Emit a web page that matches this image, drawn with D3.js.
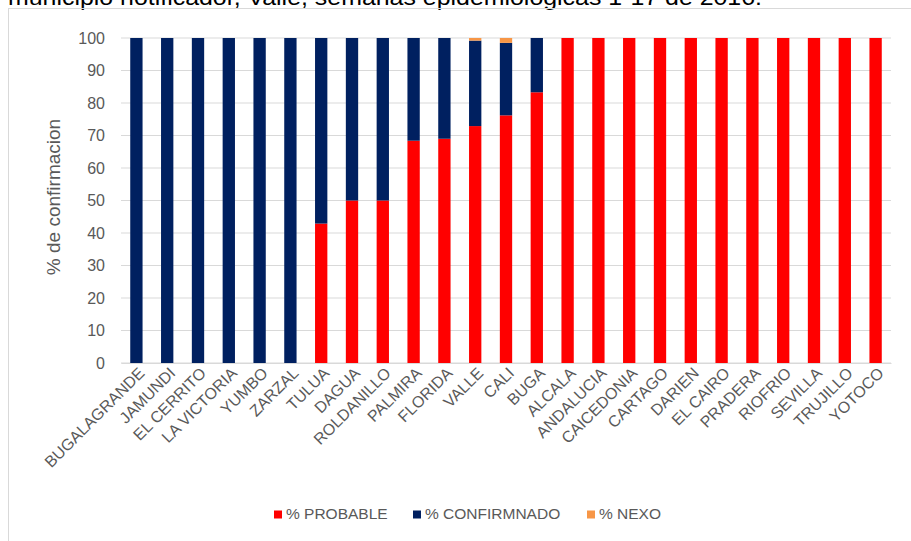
<!DOCTYPE html>
<html><head><meta charset="utf-8">
<script src="https://cdn.jsdelivr.net/npm/d3@7"></script>
<style>body{margin:0;background:#fff}svg{display:block;font-family:"Liberation Sans",Arial,sans-serif}</style>
</head><body>
<svg id="c" width="911" height="541"></svg>
<script>
const categories = ["BUGALAGRANDE","JAMUNDI","EL CERRITO","LA VICTORIA","YUMBO","ZARZAL","TULUA","DAGUA","ROLDANILLO","PALMIRA","FLORIDA","VALLE","CALI","BUGA","ALCALA","ANDALUCIA","CAICEDONIA","CARTAGO","DARIEN","EL CAIRO","PRADERA","RIOFRIO","SEVILLA","TRUJILLO","YOTOCO"];
const probable =    [0,0,0,0,0,0,42.9,50,50,68.4,69,72.9,76.2,83.3,100,100,100,100,100,100,100,100,100,100,100];
const confirmnado = [100,100,100,100,100,100,57.1,50,50,31.6,31,26.3,22.3,16.7,0,0,0,0,0,0,0,0,0,0,0];
const nexo =        [0,0,0,0,0,0,0,0,0,0,0,0.8,1.5,0,0,0,0,0,0,0,0,0,0,0,0];
const seriesNames = ["% PROBABLE","% CONFIRMNADO","% NEXO"];
const yTicks = [0,10,20,30,40,50,60,70,80,90,100];
const title = "municipio notificador, Valle, semanas epidemiologicas 1-17 de 2016.";
const colors = ["#FF0000","#002060","#F79646"];

const svg = d3.select("#c");
svg.append("text").attr("x",8).attr("y",5).attr("font-size",22).attr("fill","#000")
  .attr("textLength",754).attr("lengthAdjust","spacingAndGlyphs").text(title);
svg.append("rect").attr("x",8.5).attr("y",8.5).attr("width",1000).attr("height",1000)
  .attr("fill","none").attr("stroke","#d9d9d9");

const L=121,R=891,T=38,B=363;
const x = d3.scaleBand().domain(categories).range([L,R]).paddingInner(0.6).paddingOuter(0.3);
const y = d3.scaleLinear().domain([0,100]).range([B,T]);

const g = svg.append("g");
g.selectAll("line.grid").data(yTicks).join("line")
  .attr("x1",L).attr("x2",R).attr("y1",d=>y(d)).attr("y2",d=>y(d))
  .attr("stroke","#d9d9d9").attr("stroke-width",1);

const table = categories.map((c,i)=>({cat:c,p:probable[i],c:confirmnado[i],n:nexo[i]}));
const stack = d3.stack().keys(["p","c","n"])(table);
g.selectAll("g.s").data(stack).join("g").attr("fill",(d,i)=>colors[i])
  .selectAll("rect").data(d=>d).join("rect")
  .attr("x",d=>x(d.data.cat)).attr("width",x.bandwidth())
  .attr("y",d=>y(d[1])).attr("height",d=>Math.max(0,y(d[0])-y(d[1])));

const yAxis = svg.append("g").attr("transform",`translate(${L},0)`)
  .call(d3.axisLeft(y).tickValues(yTicks).tickSize(0).tickPadding(16));
yAxis.select(".domain").remove();
yAxis.selectAll("text").attr("font-size",16).attr("fill","#595959").attr("font-family","Liberation Sans, Arial");

const xAxis = svg.append("g").attr("transform",`translate(0,${B})`)
  .call(d3.axisBottom(x).tickSize(0));
xAxis.select(".domain").attr("stroke","#d9d9d9");
xAxis.selectAll("text").attr("font-size",16).attr("fill","#595959").attr("font-family","Liberation Sans, Arial")
  .attr("text-anchor","end").attr("dy",0)
  .attr("transform","translate(7,9) rotate(-45)");

svg.append("text").attr("transform",`translate(60,197) rotate(-90)`)
  .attr("text-anchor","middle").attr("font-size",19).attr("fill","#595959").text("% de confirmacion");

const legX=[274,413,587];
const leg = svg.append("g");
seriesNames.forEach((s,i)=>{
  leg.append("rect").attr("x",legX[i]).attr("y",510.5).attr("width",8).attr("height",8).attr("fill",colors[i]);
  leg.append("text").attr("x",legX[i]+12).attr("y",519).attr("font-size",15.5).attr("fill","#595959").text(s);
});
</script>
</body></html>
